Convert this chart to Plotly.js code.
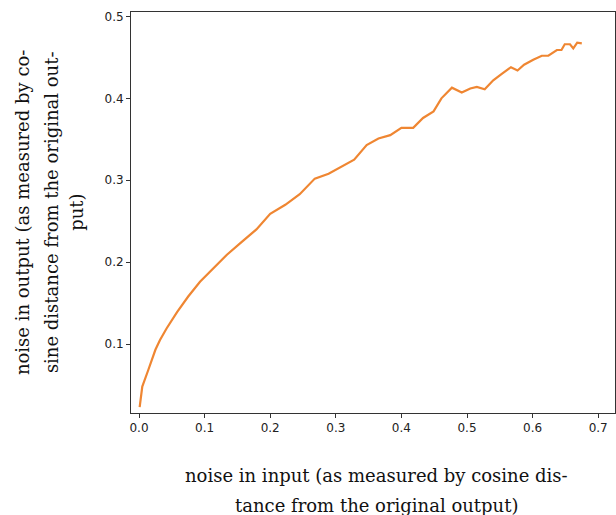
<!DOCTYPE html>
<html>
<head>
<meta charset="utf-8">
<script src="https://cdn.plot.ly/plotly-3.0.1.min.js"></script>
<style>html,body{margin:0;padding:0;background:#fff}#chart{width:616px;height:515px}</style>
</head>
<body>
<div id="chart"></div>
<script>
const noiseInput = [0.001, 0.005, 0.014, 0.025, 0.032, 0.042, 0.058, 0.075, 0.093, 0.111, 0.134, 0.154, 0.179, 0.200, 0.223, 0.245, 0.268, 0.289, 0.306, 0.328, 0.347, 0.365, 0.383, 0.400, 0.418, 0.433, 0.449, 0.461, 0.477, 0.492, 0.505, 0.515, 0.527, 0.540, 0.553, 0.567, 0.577, 0.587, 0.601, 0.614, 0.624, 0.637, 0.644, 0.649, 0.657, 0.662, 0.668, 0.675];
const noiseOutput = [0.023, 0.048, 0.068, 0.093, 0.105, 0.119, 0.139, 0.158, 0.176, 0.190, 0.209, 0.223, 0.240, 0.259, 0.270, 0.283, 0.302, 0.308, 0.315, 0.325, 0.343, 0.351, 0.355, 0.364, 0.364, 0.376, 0.384, 0.400, 0.413, 0.407, 0.412, 0.414, 0.411, 0.422, 0.430, 0.438, 0.434, 0.441, 0.447, 0.452, 0.452, 0.459, 0.459, 0.466, 0.466, 0.461, 0.468, 0.467];
const xTickVals = [0.0, 0.1, 0.2, 0.3, 0.4, 0.5, 0.6, 0.7];
const xTickText = ["0.0", "0.1", "0.2", "0.3", "0.4", "0.5", "0.6", "0.7"];
const yTickVals = [0.1, 0.2, 0.3, 0.4, 0.5];
const yTickText = ["0.1", "0.2", "0.3", "0.4", "0.5"];
const xTitleLines = ["noise in input (as measured by cosine dis-", "tance from the original output)"];
const yTitleLines = ["noise in output (as measured by co-", "sine distance from the original out-", "put)"];

const titleFont = {family: "DejaVu Serif", size: 18, color: "#111"};
const annotations = [];
const xTitleY = [-0.157, -0.23];
xTitleLines.forEach((t, i) => annotations.push({
  text: t, xref: "paper", yref: "paper", x: 0.508, y: xTitleY[i],
  xanchor: "center", yanchor: "middle", showarrow: false, font: titleFont
}));
const yTitleX = [-0.224, -0.164, -0.113];
const yTitleY = [0.5, 0.5, 0.5];
yTitleLines.forEach((t, i) => annotations.push({
  text: t, xref: "paper", yref: "paper", x: yTitleX[i], y: yTitleY[i],
  xanchor: "center", yanchor: "middle", showarrow: false, textangle: -90, font: titleFont
}));

const trace = {
  x: noiseInput, y: noiseOutput, type: "scatter", mode: "lines",
  line: {color: "#ef8632", width: 2.2}, hoverinfo: "skip"
};
const axisCommon = {
  showline: true, linecolor: "#333", linewidth: 1, mirror: true,
  ticks: "outside", ticklen: 4, tickwidth: 1, tickcolor: "#333",
  showgrid: false, zeroline: false,
  tickfont: {family: "DejaVu Sans", size: 12, color: "#222"}
};
const layout = {
  width: 616, height: 515,
  margin: {l: 131, r: 1, t: 12, b: 102},
  paper_bgcolor: "#fff", plot_bgcolor: "#fff",
  showlegend: false,
  xaxis: Object.assign({}, axisCommon, {range: [-0.0122, 0.7256], tickvals: xTickVals, ticktext: xTickText}),
  yaxis: Object.assign({}, axisCommon, {range: [0.0158, 0.5054], tickvals: yTickVals, ticktext: yTickText}),
  annotations: annotations
};
Plotly.newPlot("chart", [trace], layout, {displayModeBar: false, staticPlot: true});
</script>
</body>
</html>
